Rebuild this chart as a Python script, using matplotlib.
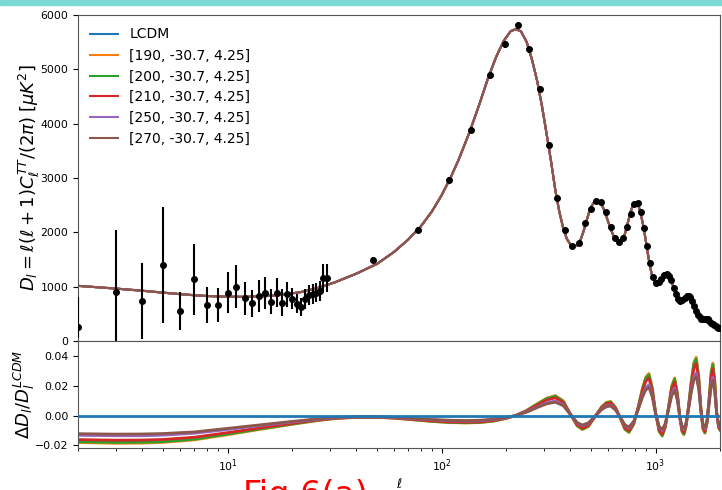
import matplotlib
matplotlib.use("Agg")
import matplotlib.pyplot as plt
from matplotlib.patches import Rectangle

# ── theory spectrum (all models overlap at this scale) ──────────────────────
ell_th = [2, 3, 4, 5, 6, 7, 8, 10, 12, 15, 18, 22, 27, 32, 40, 50, 60, 70, 80,
          90, 100, 110, 120, 135, 150, 165, 180, 195, 210, 222, 235, 250, 265,
          280, 295, 310, 325, 340, 355, 370, 385, 400, 415, 430, 445, 460, 475,
          490, 505, 520, 535, 550, 565, 580, 600, 620, 640, 660, 675, 690, 705,
          720, 735, 750, 765, 780, 795, 810, 825, 840, 855, 870, 885, 900, 915,
          930, 945, 960, 975, 990, 1005, 1020, 1040, 1060, 1080, 1100, 1120,
          1140, 1160, 1180, 1200, 1220, 1240, 1260, 1280, 1300, 1320, 1345,
          1370, 1395, 1420, 1445, 1470, 1495, 1520, 1545, 1570, 1595, 1620,
          1645, 1670, 1695, 1720, 1745, 1770, 1795, 1820, 1845, 1870, 1900,
          1930, 1960, 1990, 2000]
D_th = [1015, 965, 925, 890, 862, 842, 828, 815, 812, 825, 850, 900, 985, 1085,
        1240, 1420, 1640, 1870, 2110, 2380, 2680, 3000, 3330, 3840, 4350, 4840,
        5230, 5520, 5700, 5740, 5700, 5500, 5170, 4780, 4310, 3800, 3300, 2780,
        2380, 2080, 1880, 1775, 1740, 1760, 1850, 2010, 2200, 2380, 2500, 2570,
        2590, 2560, 2480, 2370, 2200, 2040, 1910, 1840, 1815, 1830, 1880, 1980,
        2110, 2250, 2380, 2480, 2540, 2555, 2520, 2440, 2320, 2180, 2030, 1850,
        1670, 1500, 1350, 1230, 1150, 1090, 1065, 1065, 1090, 1135, 1185, 1225,
        1240, 1230, 1190, 1125, 1040, 950, 870, 805, 765, 745, 748, 765, 795,
        825, 838, 825, 780, 710, 630, 560, 495, 450, 420, 405, 400, 402, 408,
        405, 390, 365, 335, 310, 290, 272, 260, 248, 235, 232]

# ── low-ell data (one multipole each) ───────────────────────────────────────
ell_lo = [2, 3, 4, 5, 6, 7, 8, 9, 10, 11, 12, 13, 14, 15, 16, 17, 18, 19, 20,
          21, 22, 23, 24, 25, 26, 27, 28, 29]
D_lo = [263, 908, 742, 1398, 558, 1135, 668, 668, 890, 1000, 785, 693, 834,
        890, 724, 890, 705, 865, 779, 681, 620, 773, 846, 865, 890, 920, 1153,
        1153]
err_lo_minus = [200, 900, 705, 1060, 356, 657, 343, 313, 381, 399, 307, 246,
                294, 307, 233, 270, 250, 245, 196, 175, 165, 180, 185, 185, 180,
                175, 245, 245]
err_lo_plus = [550, 1130, 688, 1075, 350, 650, 332, 302, 386, 398, 307, 245,
               288, 282, 227, 263, 250, 227, 190, 175, 165, 180, 185, 185, 180,
               175, 264, 264]

# ── binned high-ell data ────────────────────────────────────────────────────
ell_hi = [48, 78, 108, 138, 168, 197, 227, 257, 287, 317, 347, 377, 407, 437,
          467, 497, 527, 557, 587, 617, 647, 677, 707, 737, 767, 796, 826, 856,
          886, 916, 946, 976, 1006, 1036, 1066, 1096, 1126, 1156, 1186, 1216,
          1246, 1276, 1306, 1336, 1366, 1396, 1426, 1456, 1486, 1516, 1546,
          1576, 1606, 1636, 1666, 1696, 1726, 1756, 1786, 1816, 1846, 1876,
          1906, 1936, 1966, 1996]
D_hi = [1490, 2040, 2960, 3880, 4890, 5460, 5810, 5370, 4640, 3610, 2640, 2040,
        1750, 1800, 2180, 2430, 2580, 2560, 2370, 2100, 1890, 1815, 1890, 2100,
        2330, 2530, 2540, 2380, 2080, 1750, 1430, 1185, 1065, 1080, 1140, 1210,
        1235, 1200, 1120, 980, 860, 775, 742, 760, 790, 825, 835, 805, 735, 640,
        560, 485, 440, 410, 400, 402, 410, 400, 375, 340, 310, 290, 270, 258,
        245, 232]
err_hi = [60, 55, 55, 60, 65, 65, 70, 65, 55, 45, 35, 30, 25, 25, 25, 25, 25,
          25, 25, 25, 22, 22, 22, 22, 22, 22, 22, 22, 20, 20, 20, 20, 20, 20,
          20, 20, 20, 20, 20, 20, 20, 20, 20, 20, 20, 20, 20, 20, 20, 20, 20,
          20, 20, 20, 20, 20, 20, 20, 20, 20, 20, 20, 20, 20, 20, 20]

# ── residuals relative to LCDM ──────────────────────────────────────────────
labels = ["LCDM", "[190, -30.7, 4.25]", "[200, -30.7, 4.25]",
          "[210, -30.7, 4.25]", "[250, -30.7, 4.25]", "[270, -30.7, 4.25]"]
ell_res = [2, 3, 4, 5, 7, 10, 14, 20, 26, 32, 40, 50, 60, 75, 90, 110, 130,
           150, 175, 200, 222, 250, 280, 310, 340, 370, 400, 430, 455, 485,
           520, 560, 590, 617, 650, 690, 720, 751, 790, 830, 870, 900, 931,
           965, 1000, 1040, 1075, 1110, 1150, 1190, 1228, 1265, 1300, 1330,
           1357, 1390, 1430, 1470, 1510, 1549, 1590, 1630, 1665, 1700, 1740,
           1780, 1820, 1853, 1890, 1930, 1970, 2000]
res_lcdm = [0.0] * len(ell_res)
res_190 = [-0.0183, -0.0188, -0.0187, -0.0182, -0.0165, -0.0130, -0.0095,
           -0.0060, -0.0035, -0.0020, -0.0012, -0.0012, -0.0018, -0.0030,
           -0.0040, -0.0048, -0.0050, -0.0048, -0.0038, -0.0020, 0.0000,
           0.0035, 0.0080, 0.0118, 0.0135, 0.0100, 0.0010, -0.0070, -0.0095,
           -0.0075, -0.0010, 0.0060, 0.0090, 0.0095, 0.0055, -0.0030, -0.0095,
           -0.0115, -0.0060, 0.0060, 0.0190, 0.0260, 0.0285, 0.0190, 0.0020,
           -0.0110, -0.0140, -0.0080, 0.0060, 0.0200, 0.0255, 0.0150, -0.0020,
           -0.0110, -0.0130, -0.0070, 0.0080, 0.0240, 0.0360, 0.0395, 0.0270,
           0.0040, -0.0090, -0.0120, -0.0050, 0.0120, 0.0300, 0.0355, 0.0240,
           0.0020, -0.0080, -0.0100]
res_200 = [-0.0178, -0.0182, -0.0181, -0.0177, -0.0160, -0.0126, -0.0092,
           -0.0058, -0.0034, -0.0019, -0.0012, -0.0012, -0.0017, -0.0029,
           -0.0039, -0.0047, -0.0049, -0.0047, -0.0037, -0.0019, 0.0000,
           0.0034, 0.0078, 0.0114, 0.0131, 0.0097, 0.0010, -0.0068, -0.0092,
           -0.0073, -0.0010, 0.0058, 0.0087, 0.0092, 0.0053, -0.0029, -0.0092,
           -0.0112, -0.0058, 0.0058, 0.0184, 0.0252, 0.0276, 0.0184, 0.0019,
           -0.0107, -0.0136, -0.0078, 0.0058, 0.0194, 0.0247, 0.0146, -0.0019,
           -0.0107, -0.0126, -0.0068, 0.0078, 0.0233, 0.0349, 0.0383, 0.0262,
           0.0039, -0.0087, -0.0116, -0.0049, 0.0116, 0.0291, 0.0344, 0.0233,
           0.0019, -0.0078, -0.0097]
res_210 = [-0.0163, -0.0167, -0.0166, -0.0162, -0.0147, -0.0116, -0.0085,
           -0.0053, -0.0031, -0.0018, -0.0011, -0.0011, -0.0016, -0.0027,
           -0.0036, -0.0043, -0.0045, -0.0043, -0.0034, -0.0018, 0.0000,
           0.0031, 0.0071, 0.0105, 0.0120, 0.0089, 0.0009, -0.0062, -0.0085,
           -0.0067, -0.0009, 0.0053, 0.0080, 0.0085, 0.0049, -0.0027, -0.0085,
           -0.0102, -0.0053, 0.0053, 0.0169, 0.0231, 0.0254, 0.0169, 0.0018,
           -0.0098, -0.0125, -0.0071, 0.0053, 0.0178, 0.0227, 0.0134, -0.0018,
           -0.0098, -0.0116, -0.0062, 0.0071, 0.0214, 0.0320, 0.0352, 0.0240,
           0.0036, -0.0080, -0.0107, -0.0045, 0.0107, 0.0267, 0.0316, 0.0214,
           0.0018, -0.0071, -0.0089]
res_250 = [-0.0134, -0.0137, -0.0137, -0.0133, -0.0120, -0.0095, -0.0069,
           -0.0044, -0.0026, -0.0015, -0.0009, -0.0009, -0.0013, -0.0022,
           -0.0029, -0.0035, -0.0037, -0.0035, -0.0028, -0.0015, 0.0000,
           0.0026, 0.0058, 0.0086, 0.0099, 0.0073, 0.0007, -0.0051, -0.0069,
           -0.0055, -0.0007, 0.0044, 0.0066, 0.0069, 0.0040, -0.0022, -0.0069,
           -0.0084, -0.0044, 0.0044, 0.0139, 0.0190, 0.0208, 0.0139, 0.0015,
           -0.0080, -0.0102, -0.0058, 0.0044, 0.0146, 0.0186, 0.0110, -0.0015,
           -0.0080, -0.0095, -0.0051, 0.0058, 0.0175, 0.0263, 0.0288, 0.0197,
           0.0029, -0.0066, -0.0088, -0.0037, 0.0088, 0.0219, 0.0259, 0.0175,
           0.0015, -0.0058, -0.0073]
res_270 = [-0.0123, -0.0126, -0.0125, -0.0122, -0.0111, -0.0087, -0.0064,
           -0.0040, -0.0023, -0.0013, -0.0008, -0.0008, -0.0012, -0.0020,
           -0.0027, -0.0032, -0.0034, -0.0032, -0.0025, -0.0013, 0.0000,
           0.0023, 0.0054, 0.0079, 0.0090, 0.0067, 0.0007, -0.0047, -0.0064,
           -0.0050, -0.0007, 0.0040, 0.0060, 0.0064, 0.0037, -0.0020, -0.0064,
           -0.0077, -0.0040, 0.0040, 0.0127, 0.0174, 0.0191, 0.0127, 0.0013,
           -0.0074, -0.0094, -0.0054, 0.0040, 0.0134, 0.0171, 0.0101, -0.0013,
           -0.0074, -0.0087, -0.0047, 0.0054, 0.0161, 0.0241, 0.0265, 0.0181,
           0.0027, -0.0060, -0.0080, -0.0034, 0.0080, 0.0201, 0.0238, 0.0161,
           0.0013, -0.0054, -0.0067]
residuals = [res_lcdm, res_190, res_200, res_210, res_250, res_270]
colors = ["C0", "C1", "C2", "C3", "C4", "C5"]

# ── figure ──────────────────────────────────────────────────────────────────
fig = plt.figure(figsize=(7.22, 4.90), dpi=100)
fig.patches.append(Rectangle((0, 1 - 5 / 490), 1, 5 / 490, transform=fig.transFigure,
                             color="#7dd9d4", zorder=0))
ax1 = fig.add_axes([0.108, 0.3041, 0.8892, 0.6653])
ax2 = fig.add_axes([0.108, 0.0857, 0.8892, 0.2184], sharex=ax1)

for lab, c in zip(labels, colors):
    ax1.plot(ell_th, D_th, color=c, lw=1.5, label=lab)
ax1.errorbar(ell_lo, D_lo, yerr=[err_lo_minus, err_lo_plus], fmt="o", color="k",
             ms=4, elinewidth=1.5, capsize=0, zorder=5)
ax1.errorbar(ell_hi, D_hi, yerr=err_hi, fmt="o", color="k", ms=4,
             elinewidth=1.5, capsize=0, zorder=5)
ax1.set_xscale("log")
ax1.set_xlim(2, 2000)
ax1.set_ylim(0, 6000)
ax1.set_yticks(range(0, 7000, 1000))
ax1.tick_params(axis="x", which="both", bottom=False, labelbottom=False)
ax1.tick_params(axis="y", labelsize=7.8)
ax1.set_ylabel(r"$D_l = \ell(\ell + 1)C_\ell^{TT}/(2\pi)\;[\mu K^2]$", fontsize=13)
ax1.yaxis.set_label_coords(-0.056, 0.5)
ax1.legend(loc="upper left", frameon=False, fontsize=10)

for i, (res, c) in enumerate(zip(residuals, colors)):
    ax2.plot(ell_res, res, color=c, lw=2, zorder=4 if i == 0 else 2)
ax2.set_ylim(-0.022, 0.0505)
ax2.set_yticks([-0.02, 0.0, 0.02, 0.04])
ax2.tick_params(labelsize=7.8)
ax2.set_ylabel(r"$\Delta D_l/D_l^{LCDM}$", fontsize=13)
ax2.yaxis.set_label_coords(-0.064, 0.5)
ax2.set_xlabel(r"$\ell$", fontsize=9, labelpad=2)

for ax in (ax1, ax2):
    for s in ax.spines.values():
        s.set_color("#555555")

# caption from the slide, cut by the lower edge as in the source image
fig.text(243 / 722, 1 - 479 / 490, "Fig.6(a)", color="red", fontsize=24,
         ha="left", va="top")

fig.savefig("out.png", dpi=100)
